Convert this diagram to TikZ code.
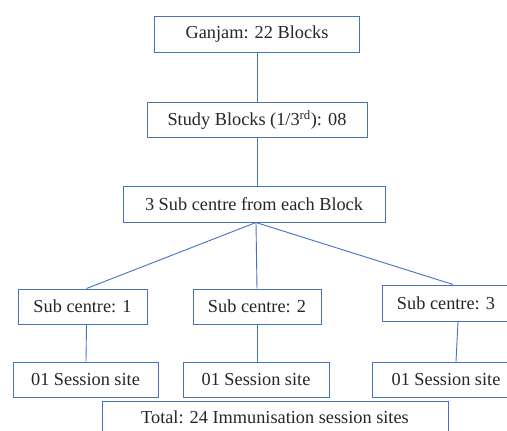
\documentclass[tikz,border=0pt]{standalone}
\usepackage{fontspec}
\setmainfont{Liberation Serif}
\begin{document}
\begin{tikzpicture}[x=1pt,y=-1pt,
  box/.style={draw=boxblue, line width=1pt, rectangle, inner sep=0pt, font=\fontsize{18.3}{22}\selectfont, text=black!85},
  conn/.style={draw=boxblue, line width=0.9pt}]
\definecolor{boxblue}{HTML}{4472C4}
\clip (0,0) rectangle (507,431);
\fill[white] (0,0) rectangle (507,431);
\node[box, minimum width=205pt, minimum height=36pt] (g) at (257,34) {Ganjam: 22 Blocks};
\node[box, minimum width=220pt, minimum height=35pt] (sb) at (257,120) {Study Blocks (1/3\textsuperscript{rd}): 08};
\node[box, minimum width=262pt, minimum height=36pt] (c) at (254,204) {3 Sub centre from each Block};
\node[box, minimum width=129pt, minimum height=35pt] (s1) at (82.5,306.5) {Sub centre: 1};
\node[box, minimum width=128pt, minimum height=35pt] (s2) at (257,306.5) {Sub centre: 2};
\node[box, minimum width=128pt, minimum height=36pt] (s3) at (446,303) {Sub centre: 3};
\node[box, minimum width=145pt, minimum height=35pt] (e1) at (85.5,379.5) {01 Session site};
\node[box, minimum width=146pt, minimum height=35pt] (e2) at (256,379.5) {01 Session site};
\node[box, minimum width=148pt, minimum height=35pt] (e3) at (446,379.5) {01 Session site};
\node[box, minimum width=346pt, minimum height=40pt] (t) at (275,421) {};
\node[font=\fontsize{18.3}{22}\selectfont, text=black!85, inner sep=0pt] (tt) at (275,417) {Total: 24 Immunisation session sites};
\draw[conn] (g.south) -- (sb.north);
\draw[conn] (sb.south) -- ([xshift=3pt]c.north);
\draw[conn] ([xshift=2pt]c.south) -- ([xshift=4pt]s1.north);
\draw[conn] ([xshift=2pt]c.south) -- (s2.north);
\draw[conn] ([xshift=2pt]c.south) -- ([xshift=7pt]s3.north);
\draw[conn] ([xshift=4pt]s1.south) -- ([xshift=0.5pt]e1.north);
\draw[conn] (s2.south) -- ([xshift=1pt]e2.north);
\draw[conn] ([xshift=12pt]s3.south) -- ([xshift=10pt]e3.north);
\end{tikzpicture}
\end{document}
